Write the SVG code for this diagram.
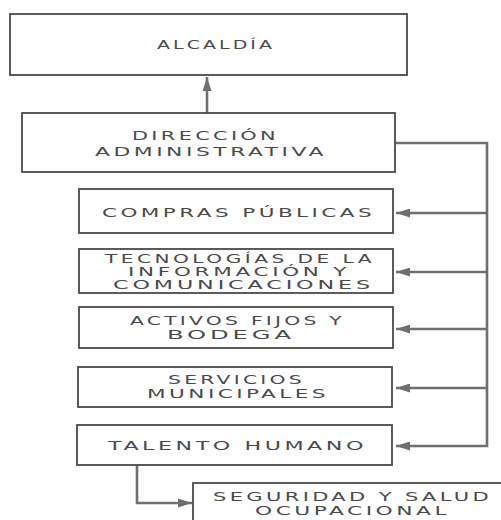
<svg xmlns="http://www.w3.org/2000/svg" width="501" height="520" viewBox="0 0 501 520">
<defs>
<marker id="ah" viewBox="0 0 14 9" refX="14" refY="4.5" markerWidth="14" markerHeight="9" markerUnits="userSpaceOnUse" orient="auto">
<path d="M0,0 L14,4.5 L0,9 Z" fill="#6f6f6f"/>
</marker>
<style>
.box{fill:#fff;stroke:#4a4a4a;stroke-width:1.8}
.t{font-family:"DejaVu Sans","Liberation Sans",sans-serif;font-size:12.5px;letter-spacing:2px;fill:#4a4a4a;text-anchor:start}
.s{font-size:11.5px}
.c{fill:none;stroke:#6f6f6f;stroke-width:2.6}
</style>
</defs>
<rect width="501" height="520" fill="#fff"/>
<g id="connectors">
<path class="c" d="M207,113 V77" marker-end="url(#ah)"/>
<path class="c" d="M395,143 H487 V446 H396" marker-end="url(#ah)"/>
<path class="c" d="M487,213 H396" marker-end="url(#ah)"/>
<path class="c" d="M487,272 H396" marker-end="url(#ah)"/>
<path class="c" d="M487,329 H396" marker-end="url(#ah)"/>
<path class="c" d="M487,388 H396" marker-end="url(#ah)"/>
<path class="c" d="M137,465 V503 H192" marker-end="url(#ah)"/>
</g>
<g id="alcaldia">
<rect class="box" x="10" y="14" width="397" height="61"/>
<text class="t" x="157" y="49" textLength="118" lengthAdjust="spacingAndGlyphs">ALCALDÍA</text>
</g>
<g id="direccion">
<rect class="box" x="22" y="113" width="373" height="59"/>
<text class="t" x="132" y="139.5" textLength="147" lengthAdjust="spacingAndGlyphs">DIRECCIÓN</text>
<text class="t" x="95" y="155.5" textLength="232" lengthAdjust="spacingAndGlyphs">ADMINISTRATIVA</text>
</g>
<g id="compras">
<rect class="box" x="79" y="189" width="314" height="44"/>
<text class="t" x="102" y="217" textLength="273" lengthAdjust="spacingAndGlyphs">COMPRAS PÚBLICAS</text>
</g>
<g id="tecnologias">
<rect class="box" x="79" y="249" width="314" height="44"/>
<text class="t s" x="105" y="263" textLength="270" lengthAdjust="spacingAndGlyphs">TECNOLOGÍAS DE LA</text>
<text class="t s" x="128" y="276" textLength="222" lengthAdjust="spacingAndGlyphs">INFORMACIÓN Y</text>
<text class="t s" x="113" y="288.5" textLength="261" lengthAdjust="spacingAndGlyphs">COMUNICACIONES</text>
</g>
<g id="activos">
<rect class="box" x="79" y="307" width="314" height="41"/>
<text class="t" x="130" y="325" textLength="215" lengthAdjust="spacingAndGlyphs">ACTIVOS FIJOS Y</text>
<text class="t" x="167" y="338.5" textLength="128" lengthAdjust="spacingAndGlyphs">BODEGA</text>
</g>
<g id="servicios">
<rect class="box" x="78" y="367" width="314" height="40"/>
<text class="t" x="168" y="384" textLength="137" lengthAdjust="spacingAndGlyphs">SERVICIOS</text>
<text class="t" x="147" y="397.5" textLength="182" lengthAdjust="spacingAndGlyphs">MUNICIPALES</text>
</g>
<g id="talento">
<rect class="box" x="77" y="425" width="315" height="40"/>
<text class="t" x="108" y="450" textLength="259" lengthAdjust="spacingAndGlyphs">TALENTO HUMANO</text>
</g>
<g id="seguridad">
<rect class="box" x="193" y="483" width="330" height="50"/>
<text class="t" x="213" y="501" textLength="279" lengthAdjust="spacingAndGlyphs">SEGURIDAD Y SALUD</text>
<text class="t" x="255" y="514.5" textLength="195" lengthAdjust="spacingAndGlyphs">OCUPACIONAL</text>
</g>
</svg>
